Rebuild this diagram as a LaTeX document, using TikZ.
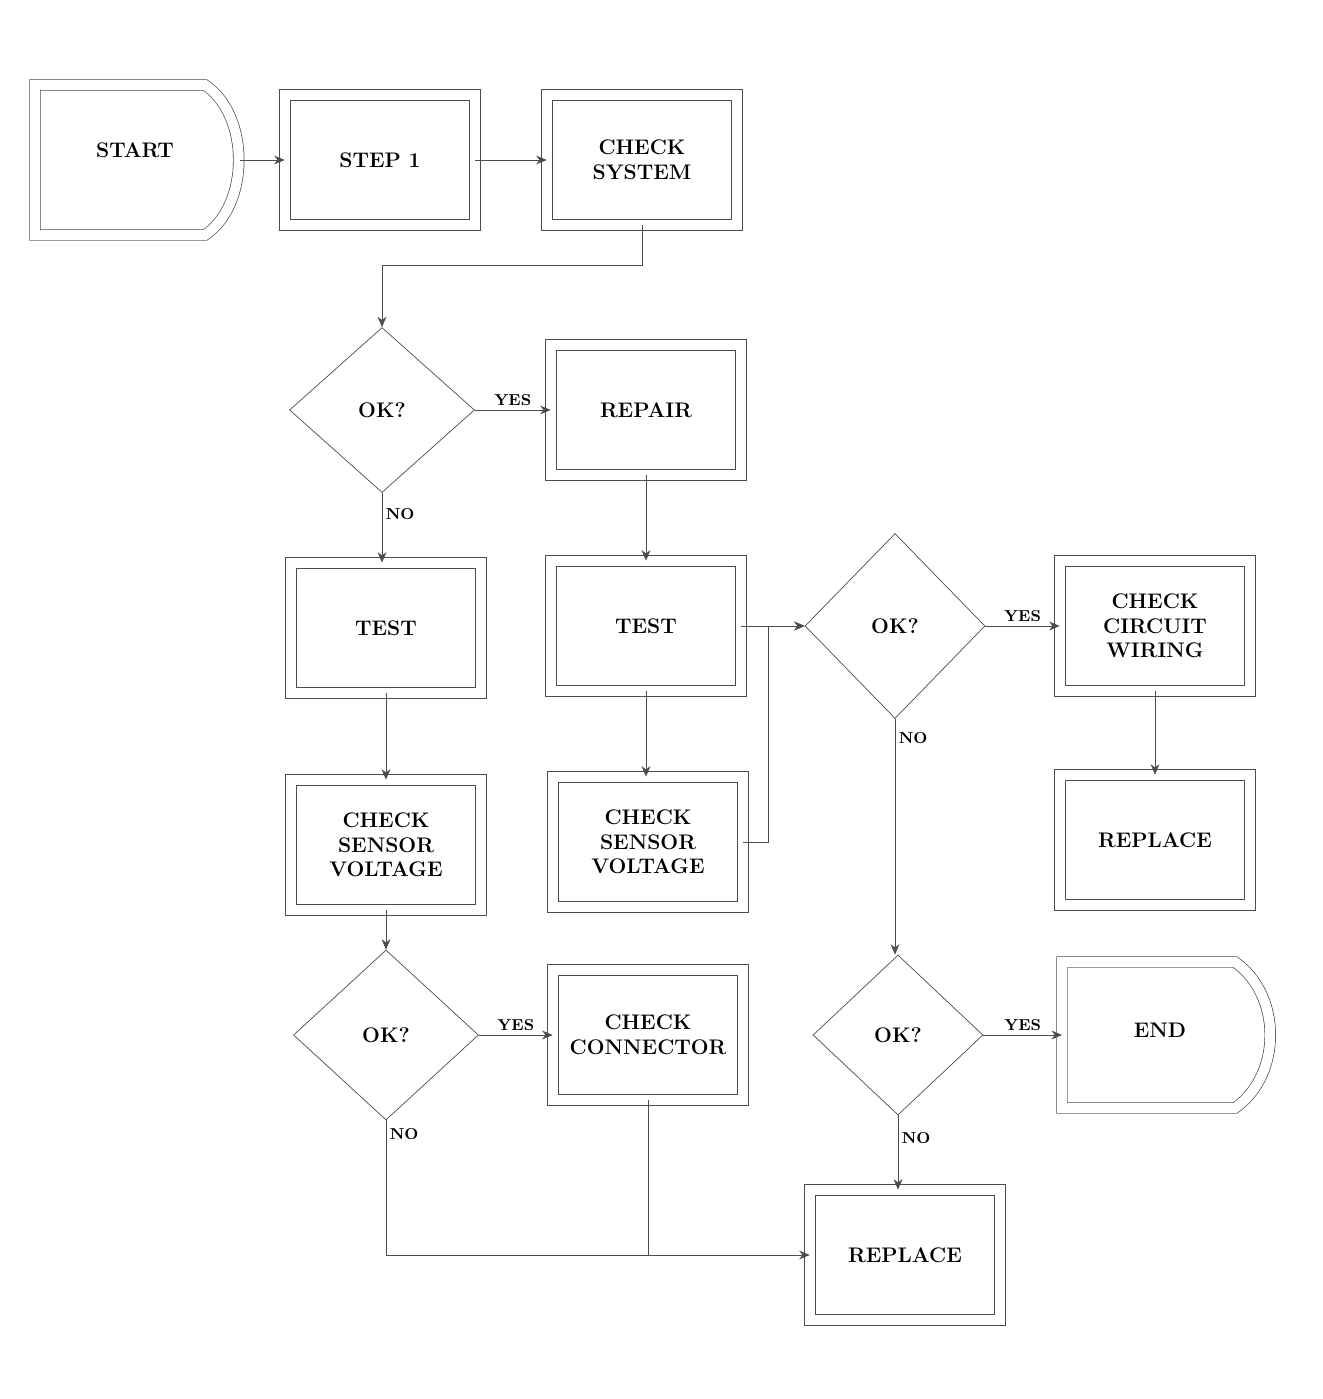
\documentclass[tikz,border=0pt]{standalone}
\usetikzlibrary{shapes.geometric,arrows.meta}
\tikzset{
	box/.style={draw=black!70, thin, double, double distance=0.2cm, minimum width=3.8cm, minimum height=2.6cm, align=center, font=\large\bfseries},
	dia/.style={draw=black!70, thin, diamond, minimum width=3.7cm, minimum height=3.3cm, align=center, font=\large\bfseries, inner sep=1pt},
	term/.style={draw=black!70, thin, double, double distance=0.2cm},
	line/.style={draw=black!70, thin, -{Stealth[length=6pt,width=5pt]}},
	yn/.style={font=\small\bfseries, inner sep=2pt},
}
\begin{document}
\begin{tikzpicture}[x=0.02cm, y=-0.02cm]
	\useasboundingbox (0,0) rectangle (1322,1399);
	% start / end shapes
	\draw[term] (35,85) -- (205,85) .. controls (250,115) and (250,205) .. (205,235) -- (35,235) -- cycle;
	\draw[term] (1062,962) -- (1235,962) .. controls (1282,995) and (1282,1075) .. (1235,1108) -- (1062,1108) -- cycle;
	\node[font=\large\bfseries] at (135,150) (A) {START};
	\node[font=\large\bfseries] at (1160,1030) (L) {END};
	\coordinate (Aout) at (240,160);
	\coordinate (Lin) at (1062,1035);
	% first row
	\node[box] at (380,160) (B) {STEP 1};
	\node[box] at (642,160) (C) {CHECK\\SYSTEM};
	% second row
	\node[dia] at (382,410) (D1) {OK?};
	\node[box] at (646,410) (E) {REPAIR};
	% third row
	\node[box] at (386,628) (F) {TEST};
	\node[box] at (646,626) (G) {TEST};
	\node[dia, minimum width=3.6cm, minimum height=3.7cm] at (895,626) (D2) {OK?};
	\node[box] at (1155,626) (I) {CHECK\\CIRCUIT\\WIRING};
	% fourth row
	\node[box] at (386,845) (F2) {CHECK\\SENSOR\\VOLTAGE};
	\node[box] at (648,842) (G2) {CHECK\\SENSOR\\VOLTAGE};
	\node[box] at (1155,840) (J) {REPLACE};
	% fifth row
	\node[dia, minimum height=3.4cm] at (386,1035) (D4) {OK?};
	\node[box] at (648,1035) (K) {CHECK\\CONNECTOR};
	\node[dia, minimum width=3.4cm, minimum height=3.2cm] at (898,1035) (D3) {OK?};
	\node[box] at (905,1255) (M) {REPLACE};
	% connectors
	\draw[line] (Aout) -- (B.west);
	\draw[line] (B.east) -- (C.west);
	\draw[line] (C.south) -- ++(0,40) -| (D1.north);
	\draw[line] (D1.east) -- node[yn, above] {YES} (E.west);
	\draw[line] (D1.south) -- node[yn, right, pos=0.3] {NO} (D1.south |- F.north);
	\draw[line] (E.south) -- (G.north);
	\draw[line] (G.east) -- (D2.west);
	\draw[line] (G2.east) -- ++(25,0) |- (D2.west);
	\draw[line] (D2.east) -- node[yn, above] {YES} (I.west);
	\draw[line] (D2.south) -- node[yn, right, pos=0.08] {NO} (D2.south |- D3.north);
	\draw[line] (F.south) -- (F.south |- F2.north);
	\draw[line] (G.south) -- (G.south |- G2.north);
	\draw[line] (I.south) -- (J.north);
	\draw[line] (F2.south) -- (D4.north);
	\draw[line] (D4.east) -- node[yn, above] {YES} (K.west);
	\draw[line] (D3.east) -- node[yn, above] {YES} (Lin);
	\draw[line] (D3.south) -- node[yn, right, pos=0.3] {NO} (D3.south |- M.north);
	\draw[line] (D4.south) -- node[yn, right, pos=0.1] {NO} (D4.south |- M.west) -- (M.west);
	\draw[draw=black!70, thin] (K.south) -- (K.south |- M.west);
\end{tikzpicture}
\end{document}
